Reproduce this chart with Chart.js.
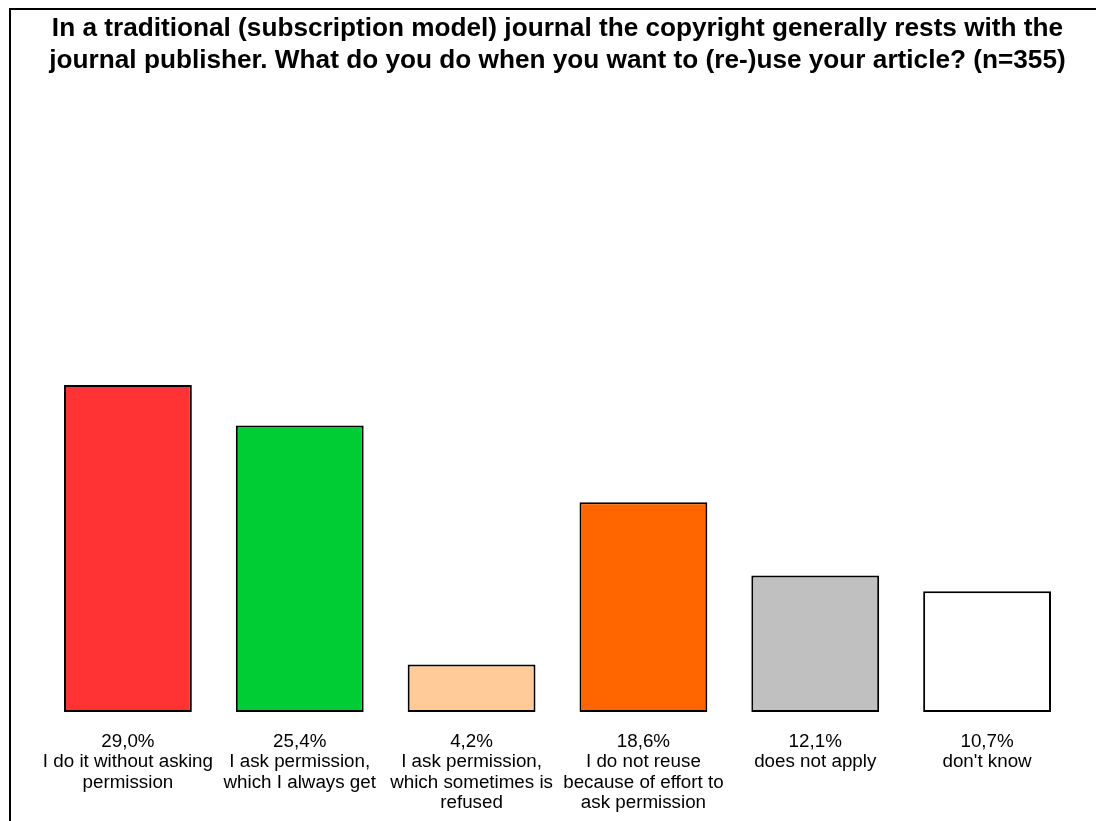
<!DOCTYPE html>
<html>
<head>
<meta charset="utf-8">
<script src="https://cdn.jsdelivr.net/npm/chart.js@4"></script>
<style>
    html, body { margin: 0; padding: 0; background: #fff; overflow: hidden; }
    #wrap { position: absolute; left: 0; top: 0; width: 1096px; height: 821px; }
    #frame {
        position: absolute; left: 9px; top: 8px; width: 1200px; height: 900px;
        border-top: 2px solid #000; border-left: 2px solid #000;
    }
</style>
</head>
<body>
<div id="frame"></div>
<div id="wrap"><canvas id="chart"></canvas></div>
<script>
// Data
const titleLines = [
    'In a traditional (subscription model) journal the copyright generally rests with the',
    'journal publisher. What do you do when you want to (re-)use your article? (n=355)'
];
const categories = [
    ['I do it without asking', 'permission'],
    ['I ask permission,', 'which I always get'],
    ['I ask permission,', 'which sometimes is', 'refused'],
    ['I do not reuse', 'because of effort to', 'ask permission'],
    ['does not apply'],
    ["don't know"]
];
const values = [29.0, 25.4, 4.2, 18.6, 12.1, 10.7];
const barColors = ['#FF3333', '#00CC33', '#FFCC99', '#FF6600', '#C0C0C0', '#FFFFFF'];

// Percentage on top of each category label, decimal comma as in the original
const tickLabels = categories.map((lines, i) => [values[i].toFixed(1).replace('.', ',') + '%', ...lines]);

const fontFamily = "'Liberation Sans', Arial, sans-serif";

const ctx = document.getElementById('chart').getContext('2d');
new Chart(ctx, {
    type: 'bar',
    data: {
        labels: tickLabels,
        datasets: [{
            data: values,
            backgroundColor: barColors,
            borderColor: '#000',
            borderWidth: 2,
            borderSkipped: false,
            barPercentage: 0.744,
            categoryPercentage: 1
        }]
    },
    options: {
        responsive: true,
        maintainAspectRatio: false,
        animation: false,
        layout: { padding: { left: 42, right: 23, top: 0, bottom: 0 } },
        plugins: {
            legend: { display: false },
            tooltip: { enabled: false },
            title: {
                display: true,
                text: titleLines,
                color: '#000',
                font: { family: fontFamily, size: 26.2, weight: 'bold', lineHeight: 32 / 26.2 },
                padding: { top: 13, bottom: 71 }
            }
        },
        scales: {
            x: {
                grid: { display: false, drawTicks: false },
                border: { display: false },
                afterFit: (scale) => { scale.height = 109; },
                ticks: {
                    color: '#000',
                    autoSkip: false,
                    maxRotation: 0,
                    padding: 20,
                    font: { family: fontFamily, size: 18.8, lineHeight: 20.2 / 18.8 }
                }
            },
            y: {
                display: false,
                min: 0,
                max: 50
            }
        }
    }
});
</script>
</body>
</html>
